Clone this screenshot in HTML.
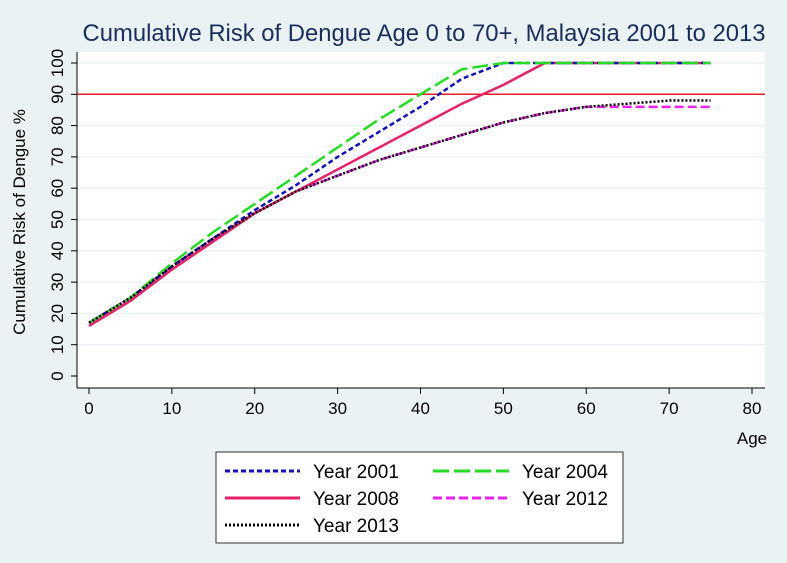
<!DOCTYPE html>
<html><head><meta charset="utf-8"><style>
body{margin:0;background:#eaf2f3;}
svg{display:block;font-family:"Liberation Sans",sans-serif;}
</style></head><body>
<svg width="787" height="563">
<rect x="0" y="0" width="787" height="563" fill="#eaf2f3"/>
<text x="424" y="41" text-anchor="middle" font-size="24" textLength="683" lengthAdjust="spacingAndGlyphs" fill="#1a2e5e">Cumulative Risk of Dengue Age 0 to 70+, Malaysia 2001 to 2013</text>
<rect x="77" y="52" width="688" height="336" fill="#fff"/>
<g id="grid"></g><g id="axes"></g><g id="series"></g>
<text x="25" y="222" text-anchor="middle" font-size="17" fill="#000" transform="rotate(-90 25 222)">Cumulative Risk of Dengue %</text>
<text x="752" y="444" text-anchor="middle" font-size="17" fill="#000">Age</text>
<g>
<rect x="216" y="452" width="407" height="91" fill="#fff" stroke="#333" stroke-width="1"/>
<line x1="225" y1="471" x2="300" y2="471" stroke="#1010c0" stroke-width="3" stroke-dasharray="5,3"/>
<text x="313" y="478" font-size="19">Year 2001</text>
<line x1="433" y1="471" x2="509" y2="471" stroke="#22dd22" stroke-width="3" stroke-dasharray="16,5"/>
<text x="522" y="478" font-size="19">Year 2004</text>
<line x1="225" y1="498" x2="300" y2="498" stroke="#e8206a" stroke-width="3"/>
<text x="313" y="505" font-size="19">Year 2008</text>
<line x1="433" y1="498" x2="509" y2="498" stroke="#ee22ee" stroke-width="3" stroke-dasharray="9,4"/>
<text x="522" y="505" font-size="19">Year 2012</text>
<line x1="225" y1="525" x2="300" y2="525" stroke="#000" stroke-width="3" stroke-dasharray="2,2"/>
<text x="313" y="532" font-size="19">Year 2013</text>
</g>
</svg>
<script>
const ages=[0,5,10,15,20,25,30,35,40,45,50,55,60,65,70,75];
const y2001=[17,25,35,44,53,61,70,78,86,95,100,100,100,100,100,100];
const y2004=[17,25,36,46,55,64,73,82,90,98,100,100,100,100,100,100];
const y2008=[16,24,34,43,52,59,66,73,80,87,93,100,100,100,100,100];
const y2012=[17,25,35,44,52,59,64,69,73,77,81,84,86,86,86,86];
const y2013=[17,25,35,44,52,59,64,69,73,77,81,84,86,87,88,88];
const xTicks=[0,10,20,30,40,50,60,70,80];
const yTicks=[0,10,20,30,40,50,60,70,80,90,100];
const refLine=90;
const NS="http://www.w3.org/2000/svg";
const sx=v=>89+v*(752-89)/80, sy=v=>376-v*(376-63)/100;
function mk(t,a,p){const e=document.createElementNS(NS,t);for(const k in a)e.setAttribute(k,a[k]);p.appendChild(e);return e;}
const grid=document.getElementById('grid'),axes=document.getElementById('axes'),ser=document.getElementById('series');
yTicks.forEach(v=>{
 if(v>0){const g=mk('line',{x1:77,x2:765,y1:sy(v),y2:sy(v),stroke:'#eef2f4','stroke-width':1.5},grid);
 
 }
 const t=mk('line',{x1:71,x2:77,y1:sy(v),y2:sy(v),stroke:'#000'},axes);
 
 
 const l=mk('text',{x:0,y:0,'text-anchor':'middle','font-size':17,transform:'translate(63,'+sy(v)+') rotate(-90)'},axes);l.textContent=v;
 
 
});
xTicks.forEach(v=>{
 const t=mk('line',{x1:sx(v),x2:sx(v),y1:388,y2:394,stroke:'#000'},axes);
 
 
 const l=mk('text',{x:sx(v),y:414,'text-anchor':'middle','font-size':17},axes);l.textContent=v;
 
 
});
const ya=mk('line',{x1:77,x2:77,y1:52,y2:388,stroke:'#000'},axes);


const xa=mk('line',{x1:77,x2:765,y1:388,y2:388,stroke:'#000'},axes);


const rl=mk('line',{x1:77,x2:765,y1:sy(refLine),y2:sy(refLine),stroke:'#e02020','stroke-width':1.5},ser);


const S=[[y2012,'#ee22ee','9,4','series-2012'],[y2008,'#e8206a','','series-2008'],[y2001,'#1010c0','5,3','series-2001'],[y2004,'#22dd22','16,5','series-2004'],[y2013,'#000','2,2','series-2013']];
S.forEach(([d,c,da,n])=>{
 const p=mk('polyline',{points:ages.map((a,i)=>sx(a)+','+sy(d[i])).join(' '),fill:'none',stroke:c,'stroke-width':2.5,'stroke-dasharray':da||'none'},ser);
 
 
});
</script>
</body></html>
